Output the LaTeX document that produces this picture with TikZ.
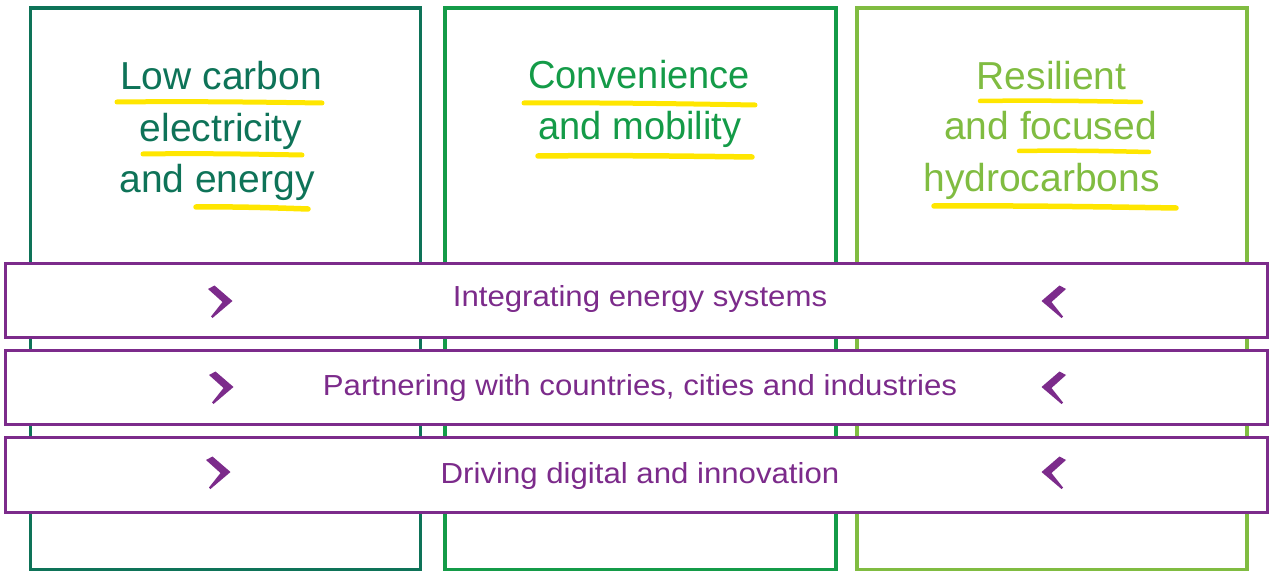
\documentclass[tikz,border=0pt]{standalone}
\usepackage{fontspec}
\setmainfont{Liberation Sans}
\definecolor{gDark}{HTML}{0E7358}
\definecolor{gMid}{HTML}{149B48}
\definecolor{gLight}{HTML}{80BC41}
\definecolor{purp}{HTML}{7C2B8B}
\definecolor{hilite}{HTML}{FFE600}
\newcommand\chevright[2]{\fill[purp] (#1,#2) ++(-23,-12) -- ++(6.5,-3.5) -- ++(18,15.5) -- ++(-20,17) -- ++(-1.5,-1.5) -- ++(11.5,-14.5) -- cycle;}
\newcommand\chevleft[2]{\fill[purp] (#1,#2) ++(23,-12) -- ++(-6.5,-3.5) -- ++(-18,15.5) -- ++(20,17) -- ++(1.5,-1.5) -- ++(-11.5,-14.5) -- cycle;}
\newcommand\brush[5]{\draw[hilite,line width=#5,line cap=round] (#1,#2) .. controls ($(#1,#2)!0.35!(#3,#4)+(0,-1.2)$) and ($(#1,#2)!0.7!(#3,#4)+(0,-0.6)$) .. (#3,#4);}
\usetikzlibrary{calc}
\begin{document}
\begin{tikzpicture}[x=1pt,y=-1pt,
  colbox/.style={draw,line width=3.5pt,minimum width=390pt,minimum height=561.5pt,inner sep=0pt},
  bandbox/.style={draw=purp,fill=white,line width=3pt,minimum width=1262pt,inner sep=0pt},
  title/.style={anchor=base,font=\fontsize{39pt}{46pt}\selectfont,inner sep=0pt},
  bandtext/.style={anchor=base,text=purp,font=\fontsize{29pt}{34pt}\selectfont,inner sep=0pt}]
\useasboundingbox (0,0) rectangle (1269,572);
% columns
\node[colbox,draw=gDark] (c1) at (225.5,288.75) {};
\node[colbox,draw=gMid,minimum width=391pt] (c2) at (640.5,288.75) {};
\node[colbox,draw=gLight] (c3) at (1052,288.75) {};
% highlights
\brush{117}{102}{322}{103}{5pt}
\brush{143}{154}{302}{155}{5pt}
\brush{196}{207}{308}{209}{5.5pt}
\brush{524}{103}{755}{105}{5pt}
\brush{538}{156}{752}{157}{5.5pt}
\brush{980}{101}{1141}{102}{4.5pt}
\brush{1019}{151}{1149}{152}{4.5pt}
\brush{934}{206}{1176}{208}{5.5pt}
% titles
\node[title,text=gDark] (t11) at (221,90) {Low carbon};
\node[title,text=gDark] (t12) at (221,141.7) {electricity};
\node[title,text=gDark] (t13) at (217,192.3) {and energy};
\node[title,text=gMid] (t21) at (639,88.3) {\scalebox{0.975}[1]{Convenience}};
\node[title,text=gMid] (t22) at (640,139.3) {\scalebox{0.975}[1]{and mobility}};
\node[title,text=gLight] (t31) at (1051.5,89.3) {Resilient};
\node[title,text=gLight] (t32) at (1050.5,140) {and focused};
\node[title,text=gLight] (t33) at (1041.5,191.7) {hydrocarbons};
% bands
\node[bandbox,minimum height=74pt] (b1) at (636.5,300.3) {};
\node[bandbox,minimum height=73.7pt] (b2) at (636.5,387.2) {};
\node[bandbox,minimum height=74.7pt] (b3) at (636.5,475.3) {};
\node[bandtext] (l1) at (640,306) {\scalebox{1.075}[1]{Integrating energy systems}};
\node[bandtext] (l2) at (640,395) {\scalebox{1.075}[1]{Partnering with countries, cities and industries}};
\node[bandtext] (l3) at (640,483) {\scalebox{1.075}[1]{Driving digital and innovation}};
\chevright{231}{301}
\chevright{232}{387}
\chevright{229}{472}
\chevleft{1043}{301}
\chevleft{1043}{387}
\chevleft{1043}{472}
\end{tikzpicture}
\end{document}
